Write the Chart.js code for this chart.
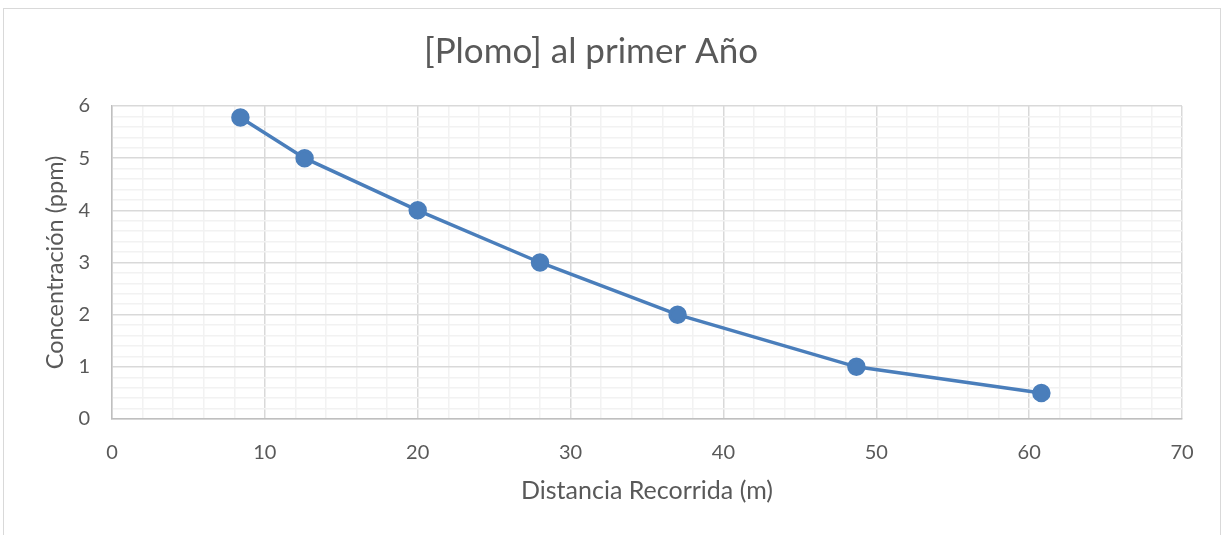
<!DOCTYPE html>
<html>
<head>
<meta charset="utf-8">
<script src="https://cdn.jsdelivr.net/npm/chart.js@4/dist/chart.umd.min.js"></script>
<style>
  html, body { margin: 0; padding: 0; background: #ffffff; }
  #wrap { width: 1222px; height: 535px; position: relative; }
</style>
</head>
<body>
<div id="wrap"><canvas id="c" width="1222" height="535"></canvas></div>
<script>
// Distancia recorrida (m) y concentración de plomo (ppm)
const distancia = [8.4, 12.6, 20.0, 28.0, 37.0, 48.7, 60.8];
const concentracion = [5.78, 5.0, 4.0, 3.0, 2.0, 1.0, 0.5];

const FONT = "Lato, 'Open Sans', 'Liberation Sans', sans-serif";
const TEXT = '#595959';
const MAJOR = '#d9d9d9';
const MINOR = '#f2f2f2';
const isWhole = v => Math.abs(v - Math.round(v)) < 1e-6;
const isTen = v => isWhole(v / 10);

// outer frame of the chart
const frame = {
  id: 'frame',
  beforeDraw(chart) {
    const ctx = chart.ctx;
    ctx.save();
    ctx.fillStyle = '#ffffff';
    ctx.fillRect(0, 0, chart.width, chart.height);
    ctx.strokeStyle = '#d9d9d9';
    ctx.lineWidth = 1;
    ctx.strokeRect(3.5, 8.5, 1217, 600);
    ctx.restore();
  }
};

new Chart(document.getElementById('c'), {
  type: 'scatter',
  data: {
    datasets: [{
      data: distancia.map((x, i) => ({ x, y: concentracion[i] })),
      showLine: true,
      borderColor: '#4a7ebb',
      backgroundColor: '#4a7ebb',
      borderWidth: 3.5,
      pointRadius: 7.5,
      pointHoverRadius: 7.5,
      tension: 0
    }]
  },
  options: {
    responsive: false,
    animation: false,
    devicePixelRatio: 1,
    layout: { padding: { left: 0, right: 40, top: 0, bottom: 0 } },
    plugins: {
      legend: { display: false },
      tooltip: { enabled: false },
      title: {
        display: true,
        text: '[Plomo] al primer Año',
        color: TEXT,
        font: { family: FONT, size: 35, weight: '400', lineHeight: 1.2 },
        padding: { top: 31, bottom: 33 }
      }
    },
    scales: {
      x: {
        type: 'linear',
        min: 0, max: 70,
        afterFit: s => { s.height = 116; },
        ticks: {
          stepSize: 2,
          autoSkip: false,
          maxRotation: 0,
          padding: 22,
          color: TEXT,
          font: { family: FONT, size: 20 },
          callback: v => isTen(v) ? String(v) : ''
        },
        grid: {
          drawTicks: false,
          color: ctx => isTen(ctx.tick.value) ? MAJOR : MINOR,
          lineWidth: 1.5
        },
        border: { color: '#bfbfbf', width: 1.5 },
        title: {
          display: true,
          text: 'Distancia Recorrida (m)',
          color: TEXT,
          font: { family: FONT, size: 25 },
          padding: { top: 0, bottom: 29 }
        }
      },
      y: {
        type: 'linear',
        min: 0, max: 6,
        afterFit: s => { s.width = 112; },
        ticks: {
          stepSize: 0.2,
          autoSkip: false,
          padding: 22,
          color: TEXT,
          font: { family: FONT, size: 20 },
          callback: v => isWhole(v) ? String(Math.round(v)) : ''
        },
        grid: {
          drawTicks: false,
          color: ctx => isWhole(ctx.tick.value) ? MAJOR : MINOR,
          lineWidth: 1.5
        },
        border: { color: '#bfbfbf', width: 1.5 },
        title: {
          display: true,
          text: 'Concentración (ppm)',
          color: TEXT,
          font: { family: FONT, size: 23.5 },
          padding: { top: 41, bottom: 0 }
        }
      }
    }
  },
  plugins: [frame]
});
</script>
</body>
</html>
